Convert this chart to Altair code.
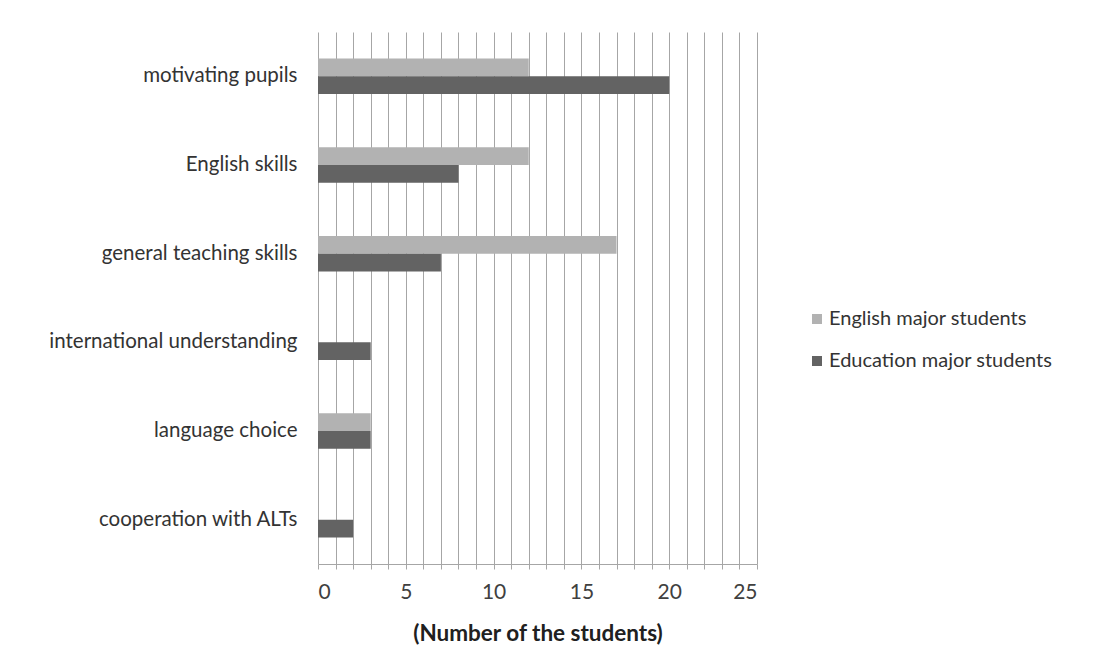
import altair as alt
import pandas as pd

categories = [
    "motivating pupils",
    "English skills",
    "general teaching skills",
    "international understanding",
    "language choice",
    "cooperation with ALTs",
]
series = ["English major students", "Education major students"]
english_major = [12, 12, 17, 0, 3, 0]
education_major = [20, 8, 7, 3, 3, 2]
x_ticks = list(range(0, 26))

rows = []
for cat, e, d in zip(categories, english_major, education_major):
    rows.append({"topic": cat, "group": series[0], "students": e})
    rows.append({"topic": cat, "group": series[1], "students": d})
df = pd.DataFrame(rows)

FONT = "Lato"

chart = (
    alt.Chart(df)
    .mark_bar()
    .encode(
        x=alt.X(
            "students:Q",
            scale=alt.Scale(domain=[0, 25], nice=False),
            axis=alt.Axis(
                title="(Number of the students)",
                values=x_ticks,
                labelExpr="datum.value % 5 === 0 ? datum.label : ''",
                grid=True,
                gridColor="#a6a6a6",
                gridWidth=1,
                domainColor="#a6a6a6",
                tickColor="#a6a6a6",
                tickSize=5,
                labelFontSize=21,
                labelColor="#404040",
                labelPadding=12,
                titleFontSize=22.5,
                titleFontWeight="bold",
                titleColor="#202020",
                titlePadding=20,
            ),
        ),
        y=alt.Y(
            "topic:N",
            sort=categories,
            scale=alt.Scale(paddingInner=0.6, paddingOuter=0.3),
            axis=alt.Axis(
                title=None,
                domain=False,
                ticks=False,
                labelFontSize=20.5,
                labelColor="#333333",
                labelPadding=21,
                labelLimit=400,
            ),
        ),
        yOffset=alt.YOffset("group:N", sort=series),
        color=alt.Color(
            "group:N",
            sort=series,
            scale=alt.Scale(domain=series, range=["#b2b2b2", "#636363"]),
            legend=alt.Legend(
                title=None,
                orient="none",
                legendX=489,
                legendY=277,
                symbolType="square",
                symbolSize=100,
                symbolStrokeWidth=0,
                labelFontSize=20,
                labelColor="#333333",
                labelLimit=400,
                rowPadding=22,
                labelOffset=2,
            ),
        ),
    )
    .properties(
        width=439,
        height=532,
        autosize=alt.AutoSizeParams(type="none"),
        padding={"left": 318, "top": 32, "right": 351, "bottom": 107},
    )
    .configure(font=FONT, background="white")
    .configure_view(stroke=None)
)

chart.save("out.html", embed_options={"renderer": "svg", "actions": False})
